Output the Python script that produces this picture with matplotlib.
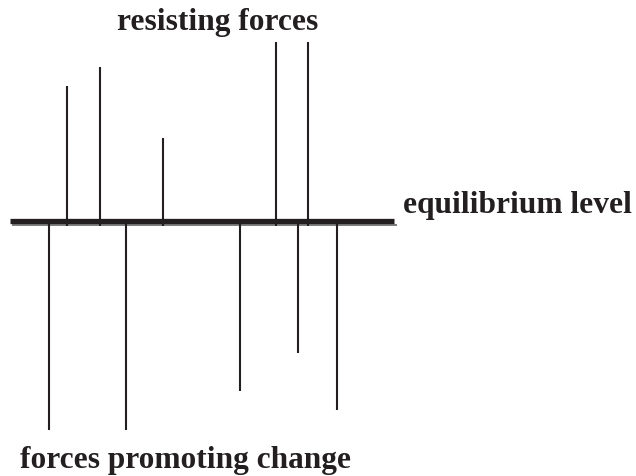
#!/usr/bin/env python3
"""Force field diagram: resisting forces vs forces promoting change."""

import matplotlib
matplotlib.use("Agg")
import matplotlib.pyplot as plt

# positions along the equilibrium line and strength of each force (pixel units)
resist_x = [67, 100, 163, 276, 308]
resist_len = [135, 154, 83, 179, 179]
promote_x = [49, 126, 240, 298, 337]
promote_len = [209, 209, 170, 132, 189]

EQ_Y = 222
EQ_X0, EQ_X1 = 10, 394


def main():
    plt.rcParams["font.family"] = ["Liberation Serif", "DejaVu Serif"]
    fig = plt.figure(figsize=(6.36, 4.77), dpi=100)
    ax = fig.add_axes([0, 0, 1, 1])
    ax.set_xlim(0, 636)
    ax.set_ylim(477, 0)
    ax.axis("off")

    # equilibrium level: thick bar with thin grey shadow beneath
    ax.plot([EQ_X0 + 2, EQ_X1 + 3], [EQ_Y + 3.5, EQ_Y + 3.5], color="#666666",
            linewidth=1.2, solid_capstyle="butt")
    ax.plot([EQ_X0, EQ_X1], [EQ_Y - 0.5, EQ_Y - 0.5], color="#231f20",
            linewidth=3.8, solid_capstyle="butt")

    for x, h in zip(resist_x, resist_len):
        ax.plot([x, x], [EQ_Y + 5, EQ_Y - h], color="#231f20", linewidth=1.5,
                solid_capstyle="butt")
    for x, h in zip(promote_x, promote_len):
        ax.plot([x, x], [EQ_Y + 2, EQ_Y + h], color="#231f20", linewidth=1.5,
                solid_capstyle="butt")

    kw = dict(fontweight="bold", fontsize=22.6, color="#231f20",
              va="baseline", ha="left")
    ax.text(117, 30, "resisting forces", **kw)
    ax.text(403, 213, "equilibrium level", **kw)
    ax.text(20, 468, "forces promoting change", **kw)

    fig.savefig("out.png", dpi=100)


if __name__ == "__main__":
    main()
